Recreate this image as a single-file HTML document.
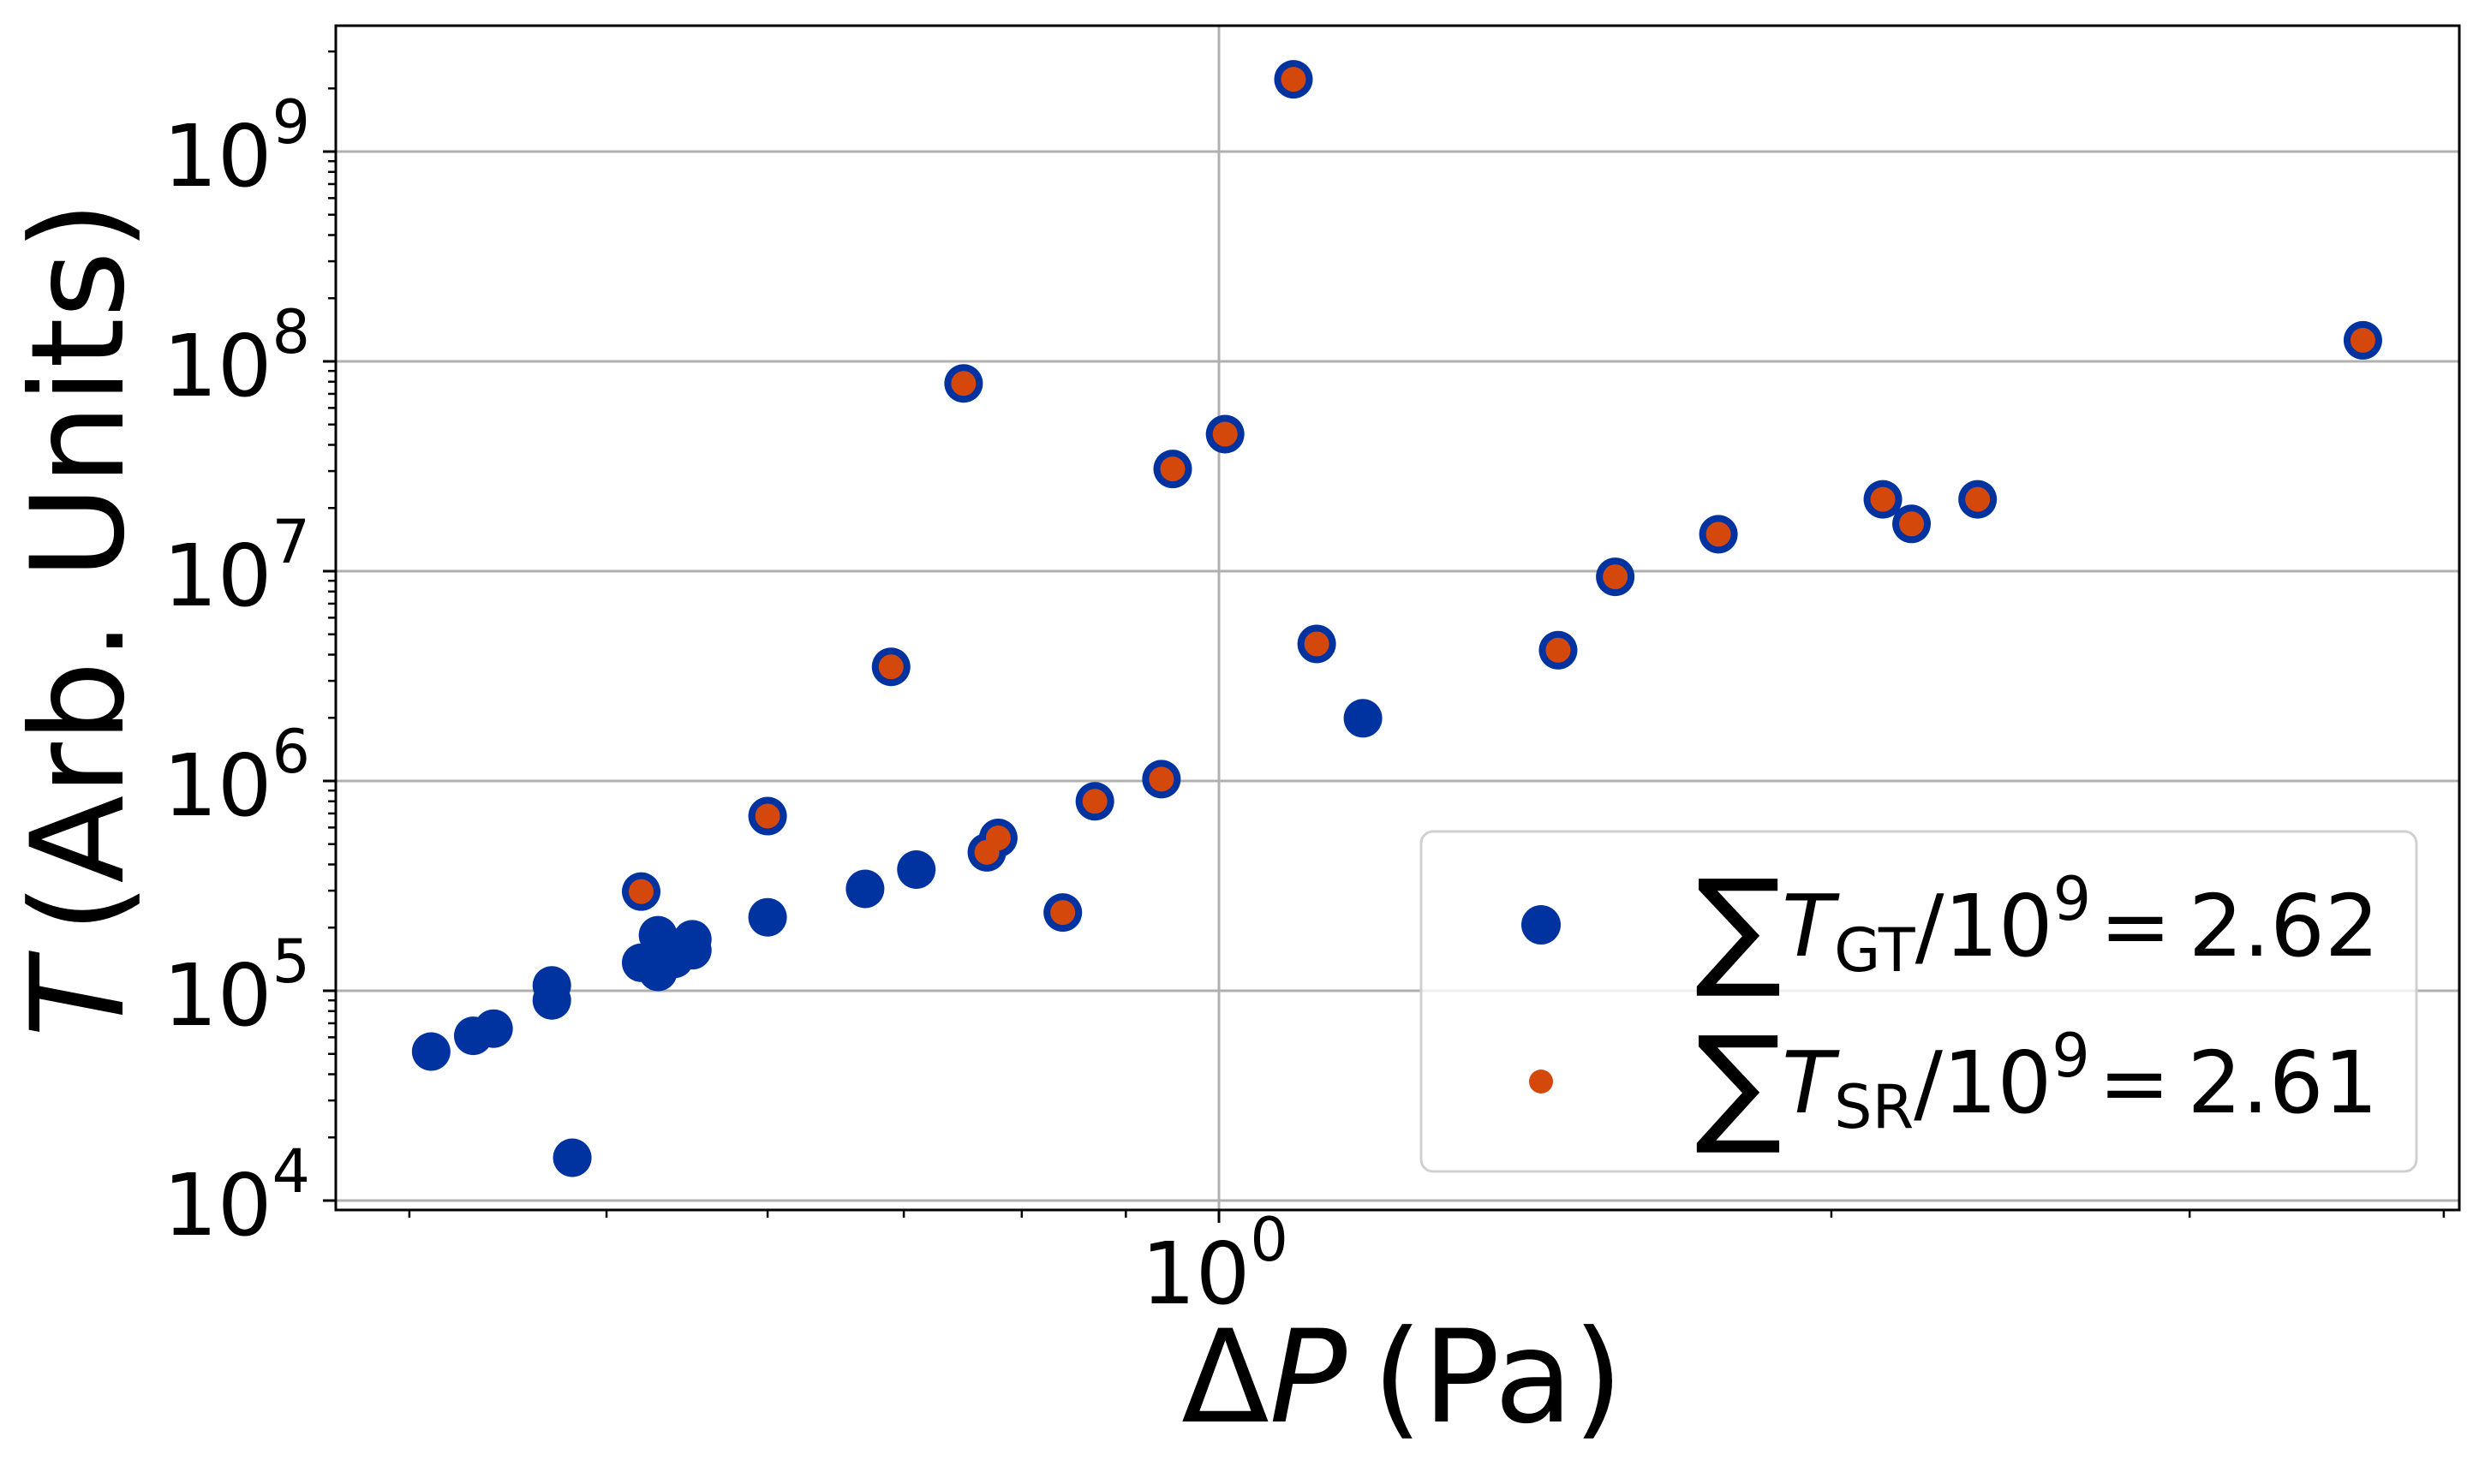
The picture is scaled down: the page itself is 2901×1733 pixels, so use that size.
<!DOCTYPE html>
<html><head><meta charset="utf-8"><style>
html,body{margin:0;padding:0;background:#fff;}
svg{display:block;}
text{font-family:"DejaVu Sans","Liberation Sans",sans-serif;fill:#000;}
</style></head><body>
<svg id="chart" width="2901" height="1733" viewBox="0 0 2901 1733" xmlns="http://www.w3.org/2000/svg">
<rect x="0" y="0" width="2901" height="1733" fill="#fff"/>
<g id="grid"></g>
<g id="ticks"></g>
<g id="marks"></g>
<rect x="392" y="30" width="2479" height="1383" fill="none" stroke="#000" stroke-width="3"/>
<text transform="translate(143,723) rotate(-90)" text-anchor="middle" font-size="150"><tspan font-style="italic">T</tspan>&#8201;(Arb. Units)</text>
<text x="1637" y="1660" text-anchor="middle" font-size="150">Δ<tspan font-style="italic">P</tspan>&#8201;(Pa)</text>
<g>
<rect x="1659" y="971" width="1162" height="397" rx="14" fill="#fff" fill-opacity="0.8" stroke="#d0d0d0" stroke-width="3"/>
<circle cx="1799" cy="1080" r="23" fill="#0033a0"/>
<circle cx="1799" cy="1263" r="14" fill="#d5480c"/>
<text x="1979" y="1116" font-size="100"><tspan font-size="150" dy="18">∑</tspan><tspan font-style="italic" dy="-18">T</tspan><tspan font-size="70" dy="18">GT</tspan><tspan dy="-18">/10</tspan><tspan font-size="70" dy="-42">9</tspan><tspan dy="42">&#8202;=&#8201;2.62</tspan></text>
<text x="1979" y="1299" font-size="100"><tspan font-size="150" dy="18">∑</tspan><tspan font-style="italic" dy="-18">T</tspan><tspan font-size="70" dy="18">SR</tspan><tspan dy="-18">/10</tspan><tspan font-size="70" dy="-42">9</tspan><tspan dy="42">&#8202;=&#8201;2.61</tspan></text>
</g>
</svg>
<script>
const gtX=[1.088,3.65,0.749,1.007,0.949,2.12,2.19,2.36,1.76,1.566,1.117,1.468,0.690,0.937,0.869,0.600,0.779,0.769,0.520,0.838,
1.177,0.710,0.670,0.600,0.410,0.430,0.440,0.470,0.470,0.481,0.530,0.551,0.551,0.520,0.530,0.540];
const gtY=[2.21e9,1.26e8,7.85e7,4.5e7,3.07e7,2.2e7,1.68e7,2.2e7,1.5e7,9.4e6,4.5e6,4.2e6,3.5e6,1.02e6,8.0e5,6.8e5,5.35e5,4.57e5,2.97e5,2.36e5,
1.99e6,3.78e5,3.06e5,2.24e5,5.13e4,6.1e4,6.6e4,1.06e5,9.0e4,1.6e4,1.84e5,1.76e5,1.56e5,1.36e5,1.23e5,1.42e5];
const srX=[1.088,3.65,0.749,1.007,0.949,2.12,2.19,2.36,1.76,1.566,1.117,1.468,0.690,0.937,0.869,0.600,0.779,0.769,0.520,0.838];
const srY=[2.21e9,1.26e8,7.85e7,4.5e7,3.07e7,2.2e7,1.68e7,2.2e7,1.5e7,9.4e6,4.5e6,4.2e6,3.5e6,1.02e6,8.0e5,6.8e5,5.35e5,4.57e5,2.97e5,2.36e5];
const yMajor=[4,5,6,7,8,9];
const xMajor=[0];
const xMinor=[0.4,0.5,0.6,0.7,0.8,0.9,2,3,4];

const NS="http://www.w3.org/2000/svg";
const L=392,R=2871,T=30,B=1413;
const X0=1423,XD=2375,Y9=177,YD=245;
function sx(v){return X0+Math.log10(v)*XD;}
function sy(v){return Y9+(9-Math.log10(v))*YD;}
function mk(tag,attrs,parent){const e=document.createElementNS(NS,tag);for(const k in attrs)e.setAttribute(k,attrs[k]);parent.appendChild(e);return e;}
const grid=document.getElementById('grid'),ticks=document.getElementById('ticks'),marks=document.getElementById('marks');

yMajor.forEach(p=>{
  const y=sy(Math.pow(10,p));
  const g=mk('line',{x1:L,x2:R,y1:y,y2:y,stroke:'#b0b0b0','stroke-width':3},grid);
  
  
  const t=mk('line',{x1:L-15,x2:L,y1:y,y2:y,stroke:'#000','stroke-width':3},ticks);
  
  
  const tx=mk('text',{x:L-30,y:y+40,'text-anchor':'end','font-size':100},ticks);
  
  
  tx.innerHTML='10<tspan font-size="70" dy="-50">'+p+'</tspan>';
});
for(let p=3;p<=9;p++){for(let m=2;m<=9;m++){
  const v=m*Math.pow(10,p);const y=sy(v);
  if(y<T||y>B)continue;
  const t=mk('line',{x1:L-9,x2:L,y1:y,y2:y,stroke:'#000','stroke-width':2.5},ticks);
  
  
}}
xMajor.forEach(p=>{
  const x=sx(Math.pow(10,p));
  const g=mk('line',{x1:x,x2:x,y1:T,y2:B,stroke:'#b0b0b0','stroke-width':3},grid);
  
  
  const t=mk('line',{x1:x,x2:x,y1:B,y2:B+15,stroke:'#000','stroke-width':3},ticks);
  
  
  const tx=mk('text',{x:x-5,y:1522,'text-anchor':'middle','font-size':100},ticks);
  
  
  tx.innerHTML='10<tspan font-size="70" dy="-50">'+p+'</tspan>';
});
xMinor.forEach(v=>{
  const x=sx(v);
  const t=mk('line',{x1:x,x2:x,y1:B,y2:B+9,stroke:'#000','stroke-width':2.5},ticks);
  
  
});
gtX.forEach((v,i)=>{
  const c=mk('circle',{cx:sx(v),cy:sy(gtY[i]),r:22.5,fill:'#0033a0'},marks);
  
  
});
srX.forEach((v,i)=>{
  const c=mk('circle',{cx:sx(v),cy:sy(srY[i]),r:14.5,fill:'#d5480c'},marks);
  
  
});
</script>
</body></html>
